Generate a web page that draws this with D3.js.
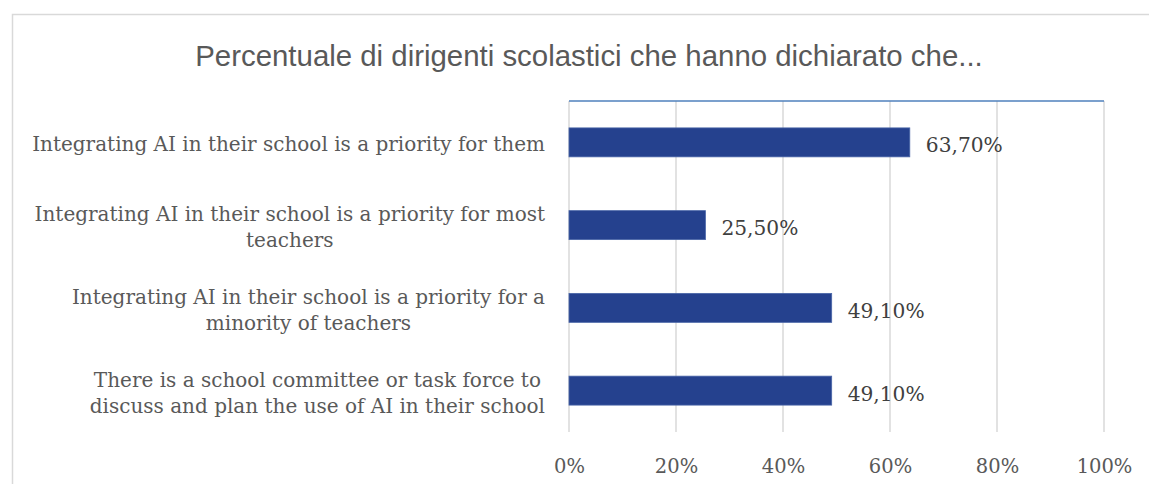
<!DOCTYPE html>
<html>
<head>
<meta charset="utf-8">
<script src="https://cdn.jsdelivr.net/npm/d3@7"></script>
<style>
  body { margin: 0; background: #fff; }
</style>
</head>
<body>
<div id="main"></div>
<script>
// chart data
var categories = [
  ["Integrating AI in their school is a priority for them"],
  ["Integrating AI in their school is a priority for most", "teachers"],
  ["Integrating AI in their school is a priority for a", "minority of teachers"],
  ["There is a school committee or task force to", "discuss and plan the use of AI in their school"]
];
var values = [63.7, 25.5, 49.1, 49.1];
var valueLabels = ["63,70%", "25,50%", "49,10%", "49,10%"];
var ticks = [0, 20, 40, 60, 80, 100];
var title = "Percentuale di dirigenti scolastici che hanno dichiarato che...";

var width = 1149, height = 484;
var plot = { left: 569, right: 1104, top: 101, bottom: 432 };
var serif = "'DejaVu Serif', Cambria, serif";

var svg = d3.select("#main").append("svg")
  .attr("width", width)
  .attr("height", height);

// chart frame (only top and left visible)
svg.append("rect")
  .attr("x", 12.5).attr("y", 14.5)
  .attr("width", width + 20).attr("height", height + 20)
  .attr("fill", "none")
  .attr("stroke", "#d9d9d9")
  .attr("stroke-width", 1.5);

svg.append("text")
  .attr("x", 589).attr("y", 66)
  .attr("text-anchor", "middle")
  .style("font-family", "'Liberation Sans', Arial, sans-serif")
  .style("font-size", "29.4px")
  .style("fill", "#595959")
  .text(title);

var x = d3.scaleLinear().domain([0, 100]).range([plot.left, plot.right]);
var y = d3.scaleBand()
  .domain(d3.range(categories.length))
  .range([plot.top, plot.bottom])
  .paddingInner(0.65)
  .paddingOuter(0.325);

// gridlines
svg.append("g")
  .selectAll("line")
  .data(ticks)
  .enter()
  .append("line")
    .attr("x1", function(d) { return x(d); })
    .attr("x2", function(d) { return x(d); })
    .attr("y1", plot.top)
    .attr("y2", plot.bottom)
    .attr("stroke", "#d9d9d9")
    .attr("stroke-width", 1.5);

// x axis labels
var xAxis = svg.append("g")
  .attr("transform", "translate(0," + plot.bottom + ")")
  .call(d3.axisBottom(x).tickValues(ticks).tickSize(0).tickPadding(27)
    .tickFormat(function(d) { return d + "%"; }));
xAxis.select(".domain").remove();
xAxis.selectAll("text")
  .style("font-family", serif)
  .style("font-size", "19.5px")
  .style("fill", "#595959");

// bars
svg.append("g")
  .selectAll("rect")
  .data(values)
  .enter()
  .append("rect")
    .attr("x", x(0))
    .attr("y", function(d, i) { return y(i); })
    .attr("width", function(d) { return x(d) - x(0); })
    .attr("height", y.bandwidth())
    .attr("fill", "#25418e")
    .attr("stroke", "#4a66a8")
    .attr("stroke-width", 0.8);

// data labels
svg.append("g")
  .selectAll("text")
  .data(values)
  .enter()
  .append("text")
    .attr("x", function(d) { return x(d) + 16; })
    .attr("y", function(d, i) { return y(i) + y.bandwidth() / 2 + 3; })
    .attr("dy", "0.35em")
    .style("font-family", serif)
    .style("font-size", "20.2px")
    .style("fill", "#404040")
    .text(function(d, i) { return valueLabels[i]; });

// category axis line (on top, categories reversed)
svg.append("line")
  .attr("x1", plot.left).attr("x2", plot.right)
  .attr("y1", plot.top).attr("y2", plot.top)
  .attr("stroke", "#4f81bd")
  .attr("stroke-width", 1.5);

// category labels: block right aligned, lines centered
var lineH = 26;
categories.forEach(function(lines, i) {
  var cy = y(i) + y.bandwidth() / 2 + 2;
  var g = svg.append("g");
  var texts = g.selectAll("text")
    .data(lines)
    .enter()
    .append("text")
      .attr("y", function(d, j) { return cy + (j - (lines.length - 1) / 2) * lineH; })
      .attr("dy", "0.35em")
      .attr("text-anchor", "middle")
      .style("font-family", serif)
      .style("font-size", "20px")
      .style("fill", "#595959")
      .text(function(d) { return d; });
  var w = d3.max(texts.nodes(), function(n) { return n.getComputedTextLength(); });
  texts.attr("x", 545 - w / 2);
});
</script>
</body>
</html>
